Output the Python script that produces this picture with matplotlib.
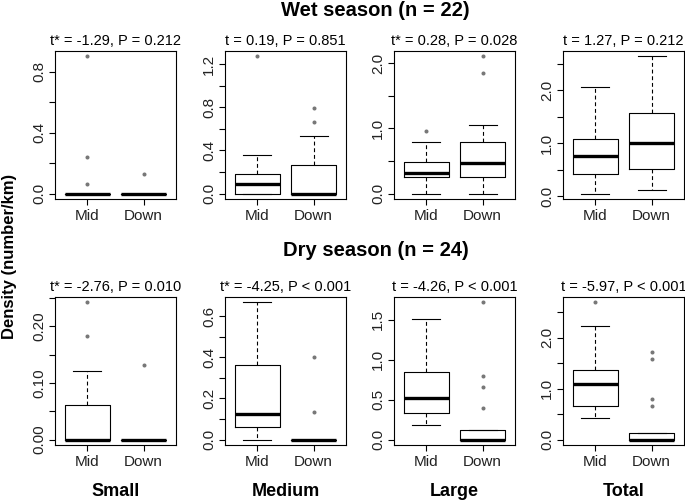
import matplotlib
matplotlib.use("Agg")
import matplotlib.pyplot as plt
from matplotlib.ticker import MultipleLocator, FuncFormatter

plt.rcParams['font.family'] = ['Liberation Sans', 'DejaVu Sans']

sizes = ["Small", "Medium", "Large", "Total"]
groups = ["Mid", "Down"]

# wet season (n = 22), one [Mid, Down] pair per size class
wet_tests = ["t* = -1.29, P = 0.212", "t = 0.19, P = 0.851",
             "t* = 0.28, P = 0.028", "t = 1.27, P = 0.212"]
wet_whislo = [[0, 0], [0, 0], [0, 0], [0.056, 0.125]]
wet_q1 = [[0, 0], [0, 0], [0.25, 0.26], [0.42, 0.52]]
wet_med = [[0, 0], [0.092, 0], [0.315, 0.472], [0.76, 1.0]]
wet_q3 = [[0, 0], [0.185, 0.26], [0.478, 0.787], [1.08, 1.58]]
wet_whishi = [[0, 0], [0.36, 0.53], [0.79, 1.056], [2.06, 2.64]]
wet_fliers = [[[0.90, 0.24, 0.065], [0.13]],
              [[1.27], [0.665, 0.79]],
              [[0.965], [1.85, 2.10]],
              [[], []]]

# dry season (n = 24)
dry_tests = ["t* = -2.76, P = 0.010", "t* = -4.25, P < 0.001",
             "t = -4.26, P < 0.001", "t = -5.97, P < 0.001"]
dry_whislo = [[0, 0], [0, 0], [0.187, 0], [0.43, 0]]
dry_q1 = [[0, 0], [0.06, 0], [0.336, 0], [0.66, 0]]
dry_med = [[0, 0], [0.124, 0], [0.518, 0], [1.09, 0]]
dry_q3 = [[0.061, 0], [0.363, 0], [0.85, 0.124], [1.37, 0.13]]
dry_whishi = [[0.1216, 0], [0.668, 0], [1.51, 0.124], [2.22, 0.13]]
dry_fliers = [[[0.182, 0.242], [0.132]],
              [[], [0.135, 0.40]],
              [[], [0.394, 0.66, 0.79, 1.716]],
              [[2.69], [0.66, 0.805, 1.59, 1.72]]]

# y tick step, label step, decimals for each panel
wet_ticks = [(0.2, 0.4, 1), (0.2, 0.4, 1), (0.5, 1.0, 1), (0.5, 1.0, 1)]
dry_ticks = [(0.05, 0.10, 2), (0.1, 0.2, 1), (0.5, 0.5, 1), (0.5, 1.0, 1)]

W, H = 685, 503
fig = plt.figure(figsize=(W / 100, H / 100), dpi=100)

lefts = [55, 225, 394, 563]
pw = 121
row_tops = [51, 297]
ph = 148


def make_formatter(label_step, dec):
    def f(v, pos):
        k = v / label_step
        if abs(k - round(k)) < 1e-6:
            return f"{v:.{dec}f}"
        return ""
    return FuncFormatter(f)


def draw_row(top, tests, whislo, q1, med, q3, whishi, fliers, ticks):
    for i in range(4):
        ax = fig.add_axes([lefts[i] / W, 1 - (top + ph) / H, pw / W, ph / H])
        stats = []
        allv = []
        for g in range(2):
            stats.append(dict(whislo=whislo[i][g], q1=q1[i][g], med=med[i][g],
                              q3=q3[i][g], whishi=whishi[i][g], fliers=fliers[i][g]))
            allv += [whislo[i][g], whishi[i][g]] + list(fliers[i][g])
        ax.bxp(stats, positions=[1, 2], widths=0.8, capwidths=0.5,
               boxprops=dict(color='black', linewidth=0.8),
               whiskerprops=dict(color='black', linewidth=0.8, linestyle=(0, (3.5, 2.5))),
               capprops=dict(color='black', linewidth=0.8),
               medianprops=dict(color='black', linewidth=2.4, solid_capstyle='butt'),
               flierprops=dict(marker='o', markersize=1.9, markerfacecolor='#777777',
                               markeredgecolor='#777777', linestyle='none'))
        lo, hi = min(allv), max(allv)
        pad = (hi - lo) * 0.04
        ax.set_ylim(lo - pad, hi + pad)
        ax.set_xlim(0.42, 2.58)
        step, lstep, dec = ticks[i]
        ax.yaxis.set_major_locator(MultipleLocator(step))
        ax.yaxis.set_major_formatter(make_formatter(lstep, dec))
        ax.set_xticks([1, 2])
        ax.set_xticklabels(groups)
        ax.tick_params(axis='both', length=4.5, width=0.8, labelsize=11, color='black',
                       labelcolor='#222222')
        ax.tick_params(axis='y', pad=2)
        ax.tick_params(axis='x', pad=3)
        for lab in ax.get_yticklabels():
            lab.set_rotation(90)
            lab.set_va('center')
        for s in ax.spines.values():
            s.set_linewidth(0.8)
        ax.set_title(tests[i], fontsize=10.5, pad=4)


draw_row(row_tops[0], wet_tests, wet_whislo, wet_q1, wet_med, wet_q3, wet_whishi, wet_fliers, wet_ticks)
draw_row(row_tops[1], dry_tests, dry_whislo, dry_q1, dry_med, dry_q3, dry_whishi, dry_fliers, dry_ticks)

fig.text(375 / W, 1 - 10 / H, "Wet season (n = 22)", fontsize=14.5, fontweight='bold',
         ha='center', va='center')
fig.text(376 / W, 1 - 250 / H, "Dry season (n = 24)", fontsize=14.5, fontweight='bold',
         ha='center', va='center')
fig.text(10 / W, 1 - 256 / H, "Density (number/km)", fontsize=12, fontweight='bold',
         rotation=90, ha='center', va='center')
for i, name in enumerate(sizes):
    fig.text((lefts[i] + pw / 2) / W, 1 - 491 / H, name, fontsize=13, fontweight='bold',
             ha='center', va='center')

fig.savefig("out.png", dpi=100)
